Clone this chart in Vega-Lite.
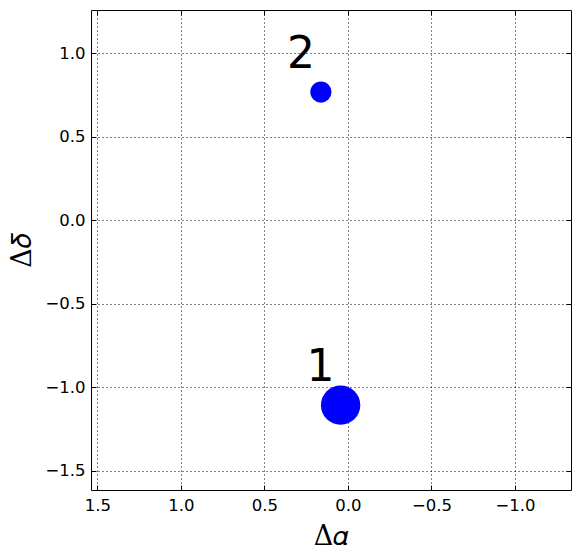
{
  "$schema": "https://vega.github.io/schema/vega-lite/v6.json",
  "width": 480,
  "height": 480,
  "autosize": {"type": "none"},
  "padding": {"left": 91, "top": 10, "right": 9, "bottom": 68},
  "background": "white",
  "config": {
    "view": {"stroke": "black", "strokeWidth": 1},
    "axis": {
      "labelFont": "DejaVu Sans",
      "labelFontSize": 16.5,
      "labelColor": "black",
      "tickColor": "black",
      "tickSize": -5,
      "tickWidth": 1,
      "domain": false,
      "grid": true,
      "gridColor": "black",
      "gridDash": [1, 3],
      "gridOpacity": 1,
      "gridWidth": 1,
      "zindex": 1,
      "titleFont": "DejaVu Serif",
      "titleFontSize": 27,
      "titleFontWeight": "normal",
      "titleColor": "black",
      "format": ".1f"
    }
  },
  "data": {
    "values": [
      {"id": "1", "dra": 0.044, "ddec": -1.106, "flux": 1.0},
      {"id": "2", "dra": 0.162, "ddec": 0.768, "flux": 0.29}
    ]
  },
  "layer": [
    {
      "mark": {"type": "circle", "color": "#0000ff", "opacity": 1},
      "encoding": {
        "x": {
          "field": "dra", "type": "quantitative",
          "scale": {"domain": [-1.335, 1.538], "reverse": true, "nice": false, "zero": false},
          "axis": {"values": [1.5, 1.0, 0.5, 0.0, -0.5, -1.0], "title": "Δ𝛼", "labelPadding": 12, "titleBaseline": "alphabetic", "titleY": 54}
        },
        "y": {
          "field": "ddec", "type": "quantitative",
          "scale": {"domain": [-1.614, 1.259], "nice": false, "zero": false},
          "axis": {"values": [1.0, 0.5, 0.0, -0.5, -1.0, -1.5], "title": "Δ𝛿", "labelPadding": 11, "titlePadding": 8}
        },
        "size": {
          "field": "flux", "type": "quantitative",
          "scale": {"domain": [0, 1], "range": [0, 1550]},
          "legend": null
        }
      }
    },
    {
      "mark": {"type": "text", "fontSize": 44, "font": "DejaVu Sans", "dx": -20, "dy": -24, "baseline": "alphabetic", "align": "center", "color": "black"},
      "encoding": {
        "x": {
          "field": "dra", "type": "quantitative",
          "axis": {"orient": "top", "values": [1.5, 1.0, 0.5, 0.0, -0.5, -1.0], "labels": false, "grid": false, "title": null}
        },
        "y": {
          "field": "ddec", "type": "quantitative",
          "axis": {"orient": "right", "values": [1.0, 0.5, 0.0, -0.5, -1.0, -1.5], "labels": false, "grid": false, "title": null}
        },
        "text": {"field": "id"}
      }
    }
  ],
  "resolve": {"axis": {"x": "independent", "y": "independent"}}
}
